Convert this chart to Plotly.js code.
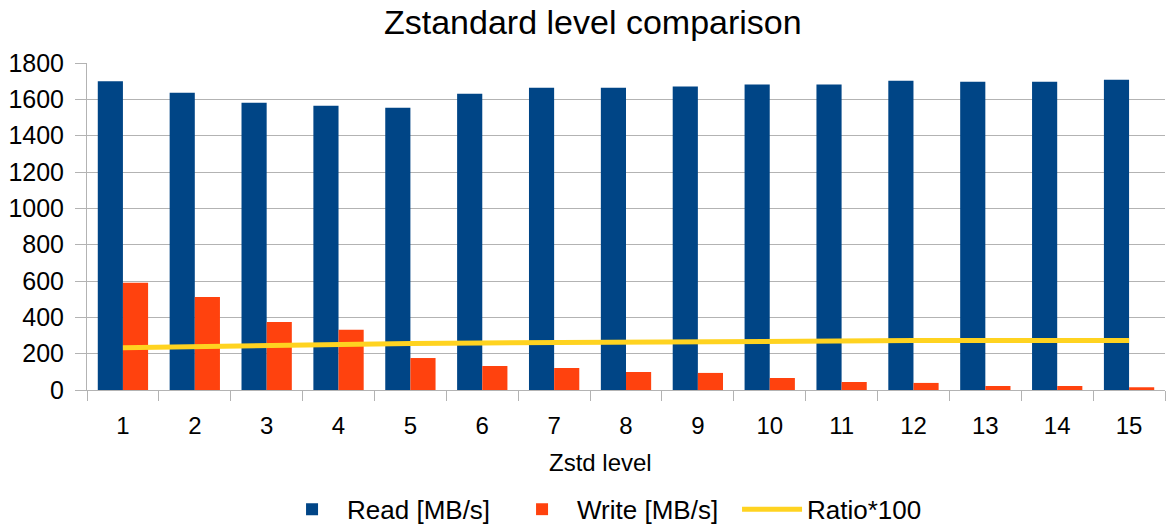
<!DOCTYPE html>
<html>
<head>
<meta charset="utf-8">
<script src="https://cdn.plot.ly/plotly-3.0.1.min.js"></script>
<style>html,body{margin:0;padding:0;background:#fff;}#chart{width:1167px;height:525px;}</style>
</head>
<body>
<div id="chart"></div>
<script>
const levels = ["1","2","3","4","5","6","7","8","9","10","11","12","13","14","15"];
const readMBs = [1700, 1636, 1581, 1565, 1554, 1631, 1664, 1664, 1670, 1681, 1681, 1702, 1697, 1697, 1708];
const writeMBs = [590, 512, 375, 331, 176, 132, 121, 99, 94, 66, 44, 39, 22, 22, 15];
const ratio100 = [233, 240, 247, 252, 256, 259, 262, 264, 267, 270, 271, 272, 272, 272, 273];

const font = "Liberation Sans, Arial, sans-serif";
const data = [
  {type:"bar", name:"Read [MB/s]", x:levels, y:readMBs, marker:{color:"#004586"}},
  {type:"bar", name:"Write [MB/s]", x:levels, y:writeMBs, marker:{color:"#ff420e"}},
  {type:"scatter", mode:"lines", name:"Ratio*100", x:levels, y:ratio100, line:{color:"#ffd320", width:5}}
];
const layout = {
  width:1167, height:525,
  margin:{l:87, r:2, t:63, b:135, autoexpand:false},
  paper_bgcolor:"#fff", plot_bgcolor:"#fff",
  font:{family:font, color:"#000", size:25},
  title:{text:"Zstandard level comparison", font:{size:34, family:font, color:"#000"}, xref:"container", x:0.508, xanchor:"center", yref:"container", y:0.958, yanchor:"middle"},
  barmode:"group", bargap:0.3, bargroupgap:0,
  xaxis:{type:"category", tickson:"boundaries", ticks:"outside", ticklen:10, tickcolor:"#b3b3b3",
         showline:true, linecolor:"#b3b3b3", linewidth:1, showgrid:false, automargin:false,
         tickfont:{size:24, family:font}, ticklabelstandoff:14},
  yaxis:{range:[0,1800], dtick:200, tick0:0, ticks:"outside", ticklen:11, tickcolor:"#b3b3b3",
         showline:true, linecolor:"#b3b3b3", gridcolor:"#b3b3b3", gridwidth:1, zeroline:false, automargin:false,
         tickfont:{size:25, family:font}, ticklabelstandoff:6},
  annotations:[{text:"Zstd level", xref:"paper", yref:"paper", x:0.476, y:-0.223, xanchor:"center", yanchor:"middle", showarrow:false, font:{size:24, family:font, color:"#000"}}],
  showlegend:true,
  legend:{orientation:"h", xref:"container", x:0.2374, xanchor:"left", yref:"container", y:0.03, yanchor:"middle", font:{size:26, family:font}, itemwidth:60, entrywidth:155, traceorder:"normal"}
};
Plotly.newPlot("chart", data, layout, {displayModeBar:false, staticPlot:true});
</script>
</body>
</html>
